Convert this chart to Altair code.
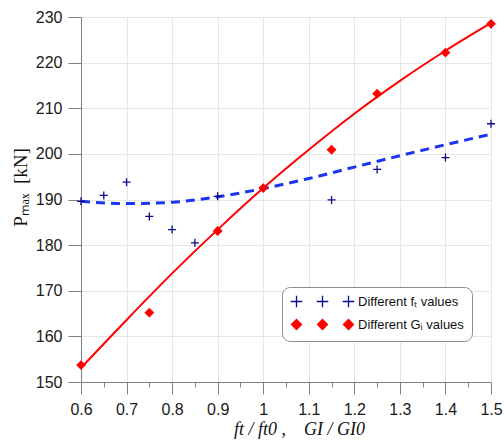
import altair as alt
import pandas as pd

# Peak load P_max [kN] versus normalised material parameters
ratio_ft = [0.6, 0.65, 0.7, 0.75, 0.8, 0.85, 0.9, 1.0, 1.15, 1.25, 1.4, 1.5]
pmax_ft = [189.6, 190.9, 193.8, 186.3, 183.4, 180.5, 190.7, 192.5, 189.9, 196.6, 199.2, 206.6]

ratio_gi = [0.6, 0.75, 0.9, 1.0, 1.15, 1.25, 1.4, 1.5]
pmax_gi = [153.7, 165.2, 183.1, 192.5, 200.9, 213.2, 222.2, 228.5]

# fitted trend curves
trend_x = [0.6, 0.7, 0.8, 0.9, 1.0, 1.1, 1.2, 1.3, 1.4, 1.5]
trend_ft = [189.6, 189.1, 189.4, 190.6, 192.4, 194.6, 197.1, 199.6, 202.0, 204.3]
trend_gi = [153.1, 163.6, 173.8, 183.4, 192.5, 200.9, 208.8, 216.0, 222.6, 228.7]

series_names = ["Different fₜ values", "Different Gᵢ values"]
marker_colors = ["#0a0a8a", "#ff0000"]
line_colors = ["#1a35f0", "#ff0000"]

x_ticks = [0.6, 0.65, 0.7, 0.75, 0.8, 0.85, 0.9, 0.95, 1.0, 1.05, 1.1,
           1.15, 1.2, 1.25, 1.3, 1.35, 1.4, 1.45, 1.5]
y_ticks = [150, 160, 170, 180, 190, 200, 210, 220, 230]

points_df = pd.concat([
    pd.DataFrame({"ratio": ratio_ft, "pmax": pmax_ft, "series": series_names[0]}),
    pd.DataFrame({"ratio": ratio_gi, "pmax": pmax_gi, "series": series_names[1]}),
], ignore_index=True)
trend_df = pd.concat([
    pd.DataFrame({"ratio": trend_x, "pmax": trend_ft, "series": series_names[0]}),
    pd.DataFrame({"ratio": trend_x, "pmax": trend_gi, "series": series_names[1]}),
], ignore_index=True)

# marker outlines in the unit square (scaled by the mark size)
PLUS = "M-1,0H1M0,-1V1"
# legend entries show each marker three times in a row
PLUS3 = ("M-1.45,0H1.45M0,-1.45V1.45"
         "M5.05,0H7.95M6.5,-1.45V1.45"
         "M11.55,0H14.45M13,-1.45V1.45")
DIAMOND3 = ("M0,-1.25L1.25,0L0,1.25L-1.25,0Z"
            "M6.5,-1.25L7.75,0L6.5,1.25L5.25,0Z"
            "M13,-1.25L14.25,0L13,1.25L11.75,0Z")

NB = "\u00a0"
x_title = f"ft{NB}/{NB}ft0{NB},{NB}{NB}{NB}{NB}GI{NB}/{NB}GI0"
y_title = f"Pₘₐₓ{NB}{NB}[kN]"

major = "round(datum.value * 100) % 10 == 0"

x_enc = alt.X(
    "ratio:Q",
    scale=alt.Scale(domain=[0.6, 1.5], nice=False, zero=False),
    axis=alt.Axis(
        values=x_ticks,
        format="~g",
        labelExpr=f"{major} ? datum.label : ''",
        labelOverlap=False,
        labelFlush=False,
        labelPadding=7,
        tickSize={"condition": {"test": major, "value": 12}, "value": 5},
        gridOpacity={"condition": {"test": major, "value": 1}, "value": 0},
        title=x_title,
        titleFont="Liberation Serif",
        titleFontStyle="italic",
        titleFontWeight="normal",
        titleFontSize=18,
        titleX=218,
        titleY=52,
        titleAlign="center",
        titleBaseline="alphabetic",
    ),
)
y_enc = alt.Y(
    "pmax:Q",
    scale=alt.Scale(domain=[150, 230], nice=False, zero=False),
    axis=alt.Axis(
        values=y_ticks,
        format="d",
        tickSize=13,
        labelPadding=6,
        labelFlush=False,
        title=y_title,
        titleFont="Liberation Serif",
        titleFontWeight="normal",
        titleFontSize=19,
        titleX=-61,
        titleY=170,
        titleAngle=270,
        titleAlign="center",
        titleBaseline="middle",
    ),
)


def color_scale():
    return alt.Scale(domain=series_names, range=marker_colors)


trend_ft_line = alt.Chart(trend_df).transform_filter(
    alt.datum.series == series_names[0]
).mark_line(color=line_colors[0], strokeWidth=3, strokeDash=[9, 6],
            interpolate="monotone", clip=False).encode(x=x_enc, y=y_enc)

trend_gi_line = alt.Chart(trend_df).transform_filter(
    alt.datum.series == series_names[1]
).mark_line(color=line_colors[1], strokeWidth=2,
            interpolate="monotone", clip=False).encode(x=x_enc, y=y_enc)

points = alt.Chart(points_df).mark_point(
    filled=True, size=64, strokeWidth=1.3, opacity=1
).encode(
    x=x_enc,
    y=y_enc,
    fill=alt.Fill("series:N", scale=color_scale(), legend=None),
    stroke=alt.Stroke("series:N", scale=color_scale(), legend=None),
    shape=alt.Shape("series:N", scale=alt.Scale(domain=series_names, range=[PLUS, "diamond"]),
                    legend=None),
)

# legend layer: draws no marks, only supplies the boxed legend with triple markers
leg = alt.Legend(
    title=None,
    orient="none",
    legendX=201,
    legendY=270,
    padding=8,
    rowPadding=6,
    strokeColor="#8c8c8c",
    fillColor="white",
    cornerRadius=8,
    labelFont="Liberation Sans",
    labelFontSize=13,
    labelColor="#111111",
    labelOffset=55,
    symbolSize=64,
    symbolStrokeWidth=1.3,
    symbolOpacity=1,
)
legend_layer = alt.Chart(points_df).transform_filter("false").mark_point(
    filled=True, size=64, strokeWidth=1.3
).encode(
    x=x_enc,
    y=y_enc,
    fill=alt.Fill("series:N", scale=color_scale(), legend=leg),
    stroke=alt.Stroke("series:N", scale=color_scale(), legend=leg),
    shape=alt.Shape("series:N", scale=alt.Scale(domain=series_names, range=[PLUS3, DIAMOND3]),
                    legend=leg),
)

chart = alt.layer(
    trend_ft_line, trend_gi_line, points, legend_layer
).resolve_scale(
    fill="independent", stroke="independent", shape="independent"
).properties(
    width=410,
    height=365,
    autosize=alt.AutoSizeParams(type="none"),
    padding={"left": 81, "top": 17, "right": 13, "bottom": 62},
    background="white",
).configure_view(stroke=None).configure_axis(
    domainColor="#808080",
    tickColor="#808080",
    gridColor="#e6e6e6",
    labelFont="Liberation Sans",
    labelFontSize=16,
    labelColor="#1a1a1a",
    titleColor="#111111",
)

chart.save("out.html", embed_options={"renderer": "svg", "actions": False})
